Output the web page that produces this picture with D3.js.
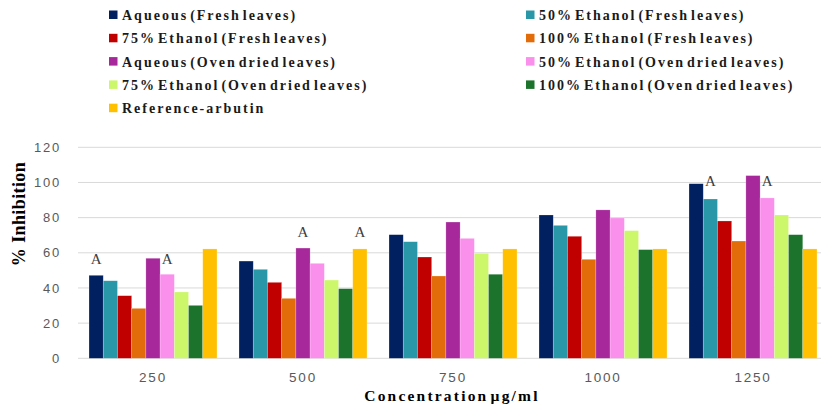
<!DOCTYPE html>
<html>
<head>
<meta charset="utf-8">
<script src="https://cdn.jsdelivr.net/npm/d3@7"></script>
<style>
  html, body { margin: 0; padding: 0; background: #fff; }
  svg { display: block; }
</style>
</head>
<body>
<svg id="chart" width="821" height="411"></svg>
<script>
// ---- Data ----
const categories = ["250", "500", "750", "1000", "1250"];
const seriesNames = [
  "Aqueous (Fresh leaves)",
  "50% Ethanol (Fresh leaves)",
  "75% Ethanol (Fresh leaves)",
  "100% Ethanol (Fresh leaves)",
  "Aqueous (Oven dried leaves)",
  "50% Ethanol (Oven dried leaves)",
  "75% Ethanol (Oven dried leaves)",
  "100% Ethanol (Oven dried leaves)",
  "Reference-arbutin"
];
const seriesColors = ["#002060", "#2997a7", "#c00000", "#e36c0a", "#a6289a", "#fa8fec", "#ccf76a", "#1b732c", "#ffc000"];
const aqueousFresh     = [47.2, 55.3, 70.3, 81.5, 99.3];
const ethanol50Fresh   = [44.1, 50.6, 66.3, 75.6, 90.6];
const ethanol75Fresh   = [35.6, 43.2, 57.6, 69.4, 78.1];
const ethanol100Fresh  = [28.4, 34.1, 46.8, 56.3, 66.7];
const aqueousOven      = [56.9, 62.7, 77.5, 84.4, 103.9];
const ethanol50Oven    = [47.8, 54.0, 68.2, 79.8, 91.2];
const ethanol75Oven    = [37.7, 44.5, 59.7, 72.6, 81.5];
const ethanol100Oven   = [30.1, 39.6, 47.8, 61.8, 70.3];
const referenceArbutin = [62.2, 62.2, 62.2, 62.2, 62.2];
const seriesValues = [aqueousFresh, ethanol50Fresh, ethanol75Fresh, ethanol100Fresh,
  aqueousOven, ethanol50Oven, ethanol75Oven, ethanol100Oven, referenceArbutin];
const yTicks = [0, 20, 40, 60, 80, 100, 120];
// significance letters: category, series index, level (value units)
const annotCats   = ["250", "250", "500", "500", "1250", "1250"];
const annotSeries = [0, 5, 4, 8, 1, 5];
const annotLevels = [53.5, 53.5, 68.9, 68.9, 98, 98];
const annotText   = ["A", "A", "A", "A", "A", "A"];

// ---- Layout ----
const svg = d3.select("#chart");
const plot = { left: 78, right: 828, top: 147.3, bottom: 358.3 };

const x0 = d3.scaleBand().domain(categories)
  .range([plot.left, plot.right]).paddingInner(0.147).paddingOuter(0.0735);
const x1 = d3.scaleBand().domain(d3.range(seriesNames.length))
  .range([0, x0.bandwidth()]).padding(0);
const y = d3.scaleLinear().domain([0, 120]).range([plot.bottom, plot.top]);

// gridlines
svg.append("g").selectAll("line").data(yTicks).join("line")
  .attr("x1", plot.left).attr("x2", plot.right)
  .attr("y1", d => y(d)).attr("y2", d => y(d))
  .attr("stroke", "#d9d9d9").attr("stroke-width", 1);

// y tick labels
const yAxis = d3.axisLeft(y).tickValues(yTicks).tickSize(0).tickPadding(0);
const gy = svg.append("g").attr("transform", `translate(61,0)`).call(yAxis);
gy.select(".domain").remove();
gy.selectAll("text")
  .attr("font-family", "'Liberation Sans', Arial, sans-serif")
  .attr("font-size", 13).attr("fill", "#595959")
  .style("letter-spacing", "1.8px");

// x tick labels
const xAxis = d3.axisBottom(x0).tickSize(0).tickPadding(0);
const gx = svg.append("g").attr("transform", `translate(0,${plot.bottom})`).call(xAxis);
gx.select(".domain").remove();
gx.selectAll("text")
  .attr("y", 24).attr("dy", 0)
  .attr("font-family", "'Liberation Sans', Arial, sans-serif")
  .attr("font-size", 13.5).attr("fill", "#595959")
  .style("letter-spacing", "1.8px");

// bars
const groups = svg.append("g").selectAll("g").data(categories).join("g")
  .attr("transform", d => `translate(${x0(d)},0)`);
groups.selectAll("rect")
  .data((c, ci) => seriesValues.map((vals, si) => ({ si, v: vals[ci] })))
  .join("rect")
  .attr("x", d => x1(d.si))
  .attr("width", x1.bandwidth())
  .attr("y", d => y(d.v))
  .attr("height", d => y(0) - y(d.v))
  .attr("fill", d => seriesColors[d.si])
  .attr("stroke", "#ffffff").attr("stroke-opacity", 0.35).attr("stroke-width", 0.6);

// annotations
svg.append("g").selectAll("text").data(annotText).join("text")
  .attr("x", (d, i) => x0(annotCats[i]) + x1(annotSeries[i]) + x1.bandwidth() / 2)
  .attr("y", (d, i) => y(annotLevels[i]))
  .attr("text-anchor", "middle")
  .attr("font-family", "'Liberation Serif', 'Times New Roman', serif")
  .attr("font-size", 15).attr("fill", "#404040")
  .text(d => d);

// axis titles
svg.append("text")
  .attr("x", 452).attr("y", 401)
  .attr("text-anchor", "middle")
  .attr("font-family", "'Liberation Serif', 'Times New Roman', serif")
  .attr("font-weight", "bold").attr("font-size", 15.5).attr("fill", "#000")
  .style("letter-spacing", "2.2px").style("word-spacing", "-4px")
  .text("Concentration µg/ml");

svg.append("text")
  .attr("transform", `translate(25,214) rotate(-90)`)
  .attr("text-anchor", "middle")
  .attr("font-family", "'Liberation Serif', 'Times New Roman', serif")
  .attr("font-weight", "bold").attr("font-size", 18).attr("fill", "#000")
  .style("letter-spacing", "0.4px")
  .text("% Inhibition");

// legend
const legCols = [109, 526];
const legRow0 = 20, legRowStep = 23.3;
const leg = svg.append("g").selectAll("g").data(seriesNames).join("g")
  .attr("transform", (d, i) => `translate(${legCols[i % 2]},${legRow0 + Math.floor(i / 2) * legRowStep})`);
leg.append("rect")
  .attr("x", 0).attr("y", -9.5).attr("width", 8.5).attr("height", 8.5)
  .attr("fill", (d, i) => seriesColors[i]);
leg.append("text")
  .attr("x", 13).attr("y", 0)
  .attr("font-family", "'Liberation Serif', 'Times New Roman', serif")
  .attr("font-weight", "bold").attr("font-size", 14).attr("fill", "#1a1a1a")
  .style("letter-spacing", "2px").style("word-spacing", "-3.5px")
  .text(d => d);
</script>
</body>
</html>
